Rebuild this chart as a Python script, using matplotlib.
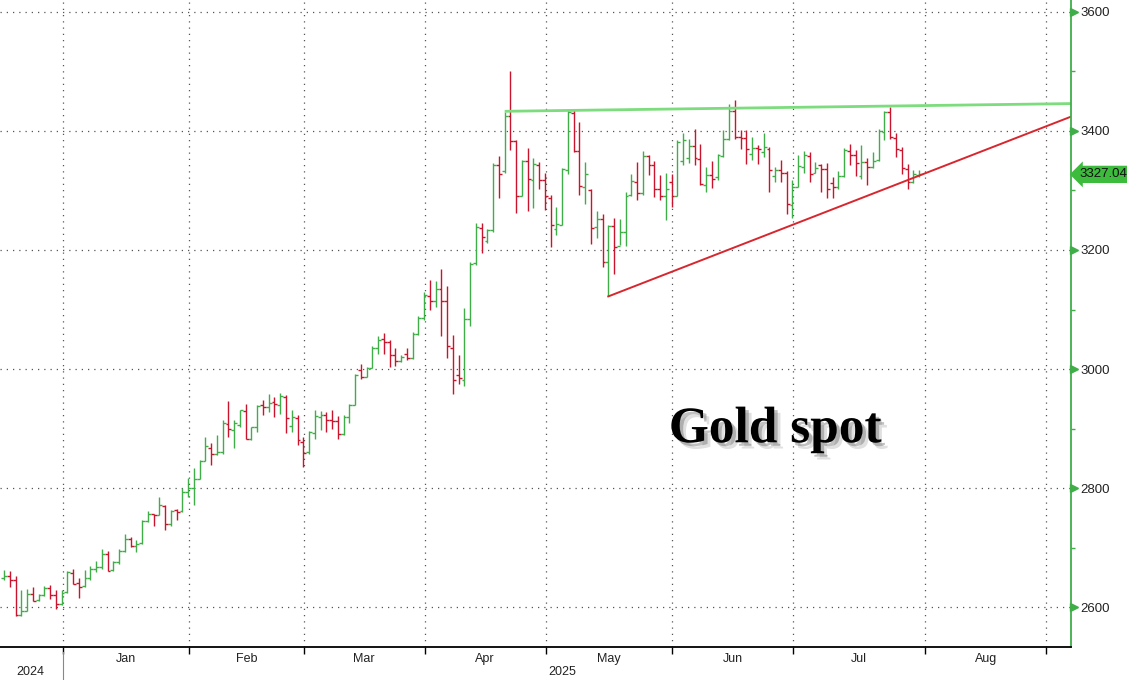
import matplotlib
matplotlib.use('Agg')
import matplotlib.pyplot as plt
import matplotlib.patheffects as pe

plt.rcParams['font.family'] = ['Liberation Sans', 'DejaVu Sans']

# daily OHLC, gold spot, mid Dec 2024 to end of Jul 2025 (one entry per trading day)
opens = [2649, 2652, 2646, 2587, 2594, 2622, 2612, 2620, 2632, 2620, 2606,
         2625, 2658, 2640, 2635, 2649, 2664, 2668, 2690, 2662, 2676, 2694, 2714, 2703, 2707, 2744, 2757, 2755, 2770, 2740, 2763, 2762, 2793,
         2800, 2816, 2846, 2868, 2858, 2861, 2908, 2898, 2906, 2930, 2883, 2902, 2940, 2937, 2945, 2940, 2953, 2905, 2918, 2878,
         2860, 2893, 2919, 2922, 2915, 2912, 2891, 2920, 2940, 2998, 2987, 3002, 3035, 3050, 3045, 3024, 3014, 3026, 3019, 3059, 3085,
         3123, 3114, 3134, 3114, 3036, 2990, 2982, 3084, 3178, 3237, 3215, 3233, 3342, 3332, 3425, 3383, 3290, 3350, 3318, 3343, 3318,
         3288, 3236, 3242, 3335, 3430, 3366, 3306, 3300, 3238, 3252, 3180, 3240, 3206, 3230, 3292, 3315, 3295, 3358, 3343, 3302, 3290, 3315,
         3290, 3350, 3355, 3374, 3353, 3310, 3326, 3322, 3358, 3386, 3433, 3390, 3388, 3362, 3372, 3365, 3370, 3325, 3335, 3330, 3275,
         3305, 3340, 3358, 3330, 3342, 3336, 3312, 3306, 3324, 3366, 3360, 3324, 3348, 3340, 3351, 3398, 3432, 3388, 3368, 3336, 3315, 3326]
highs = [2663, 2660, 2652, 2628, 2631, 2634, 2622, 2636, 2638, 2628, 2628,
         2660, 2664, 2649, 2663, 2669, 2677, 2697, 2694, 2677, 2697, 2723, 2718, 2712, 2746, 2762, 2757, 2785, 2771, 2764, 2765, 2800, 2817,
         2833, 2847, 2886, 2876, 2889, 2914, 2947, 2914, 2932, 2942, 2903, 2939, 2948, 2958, 2953, 2959, 2956, 2932, 2923, 2886,
         2896, 2931, 2930, 2928, 2932, 2921, 2923, 2942, 2992, 3008, 3004, 3039, 3055, 3061, 3049, 3035, 3023, 3035, 3063, 3089, 3130,
         3150, 3148, 3168, 3140, 3058, 3024, 3102, 3180, 3246, 3246, 3235, 3346, 3358, 3432, 3500, 3384, 3352, 3372, 3355, 3348, 3330,
         3292, 3272, 3337, 3435, 3437, 3415, 3348, 3303, 3265, 3260, 3242, 3254, 3252, 3297, 3327, 3347, 3367, 3360, 3350, 3326, 3330, 3328,
         3385, 3396, 3386, 3404, 3378, 3340, 3350, 3362, 3402, 3446, 3452, 3402, 3402, 3389, 3377, 3397, 3373, 3339, 3351, 3333, 3317,
         3360, 3367, 3364, 3347, 3345, 3346, 3323, 3332, 3371, 3378, 3368, 3377, 3354, 3365, 3403, 3434, 3440, 3396, 3373, 3344, 3334, 3334]
lows = [2645, 2634, 2585, 2585, 2593, 2610, 2611, 2618, 2613, 2597, 2603,
        2624, 2639, 2615, 2634, 2645, 2659, 2664, 2660, 2660, 2673, 2692, 2701, 2692, 2706, 2743, 2737, 2754, 2730, 2737, 2746, 2760, 2785,
        2772, 2816, 2845, 2839, 2855, 2858, 2885, 2868, 2903, 2882, 2881, 2895, 2923, 2928, 2920, 2925, 2892, 2895, 2872, 2836,
        2858, 2883, 2898, 2895, 2900, 2883, 2889, 2910, 2939, 2983, 2986, 3001, 3026, 3025, 3003, 3005, 3011, 3016, 3017, 3057, 3082,
        3100, 3105, 3055, 3018, 2958, 2975, 2972, 3072, 3175, 3195, 3212, 3230, 3288, 3330, 3368, 3262, 3290, 3266, 3270, 3302, 3268,
        3205, 3226, 3242, 3328, 3365, 3292, 3278, 3210, 3220, 3172, 3122, 3160, 3208, 3207, 3290, 3284, 3292, 3326, 3289, 3284, 3250, 3272,
        3290, 3343, 3346, 3343, 3309, 3298, 3304, 3318, 3357, 3385, 3386, 3369, 3345, 3351, 3345, 3357, 3298, 3315, 3315, 3261, 3253,
        3306, 3330, 3315, 3329, 3298, 3288, 3287, 3302, 3322, 3343, 3325, 3320, 3310, 3338, 3350, 3385, 3386, 3357, 3328, 3302, 3312, 3322]
closes = [2652, 2645, 2586, 2593, 2622, 2611, 2620, 2632, 2620, 2606, 2624,
          2659, 2639, 2634, 2649, 2664, 2667, 2690, 2661, 2676, 2694, 2715, 2703, 2706, 2744, 2757, 2755, 2771, 2740, 2762, 2760, 2793, 2800,
          2816, 2846, 2870, 2858, 2861, 2910, 2900, 2909, 2931, 2883, 2902, 2938, 2937, 2943, 2942, 2955, 2917, 2919, 2881, 2859,
          2895, 2921, 2923, 2914, 2913, 2891, 2920, 2939, 2990, 2987, 3002, 3036, 3048, 3046, 3023, 3014, 3020, 3019, 3059, 3086, 3124,
          3115, 3134, 3115, 3038, 2982, 2985, 3084, 3177, 3238, 3222, 3233, 3342, 3328, 3425, 3383, 3290, 3350, 3320, 3345, 3318, 3290,
          3242, 3243, 3336, 3432, 3366, 3307, 3327, 3237, 3252, 3180, 3241, 3205, 3230, 3291, 3316, 3296, 3358, 3343, 3303, 3290, 3303, 3290,
          3382, 3384, 3375, 3354, 3311, 3326, 3320, 3360, 3386, 3434, 3389, 3388, 3370, 3372, 3370, 3373, 3334, 3334, 3330, 3277, 3305,
          3341, 3360, 3328, 3338, 3336, 3302, 3305, 3324, 3368, 3360, 3346, 3347, 3340, 3350, 3400, 3432, 3390, 3370, 3338, 3315, 3328, 3327.04]

# hand drawn trend lines (bar index, price)
top_line_x = [87, 185.4]
top_line_y = [3433, 3446]
low_line_x = [105, 185.4]
low_line_y = [3122, 3424]

month_names = ['Jan', 'Feb', 'Mar', 'Apr', 'May', 'Jun', 'Jul', 'Aug']
month_edges = [10.2, 32.1, 52.1, 73.1, 94.1, 116.1, 137.1, 160.1, 181.1]
price_ticks = [2600, 2800, 3000, 3200, 3400, 3600]
price_minor = [2700, 2900, 3100, 3300, 3500]

GREEN = '#3fae49'
RED = '#c8142c'


def main():
    fig = plt.figure(figsize=(11.27, 6.8), dpi=100)
    ax = fig.add_axes([0.0, 0.0485, 0.950, 0.9515])

    x = list(range(len(closes)))
    colors = [GREEN if c >= o else RED for o, c in zip(opens, closes)]
    ax.vlines(x, lows, highs, colors=colors, lw=1.0)
    ax.hlines(opens, [i - 0.5 for i in x], x, colors=colors, lw=1.0)
    ax.hlines(closes, x, [i + 0.5 for i in x], colors=colors, lw=1.0)

    ax.plot(top_line_x, top_line_y, color='#7ddc7d', lw=2, solid_capstyle='butt')
    ax.plot(low_line_x, low_line_y, color='#d8262e', lw=1.4)

    ax.set_xlim(-0.7, 185.35)
    ax.set_ylim(2533, 3620)

    # grid and axes
    ax.set_xticks(month_edges)
    ax.set_xticklabels([])
    mids = [(a + b) / 2 for a, b in zip(month_edges[:-1], month_edges[1:])]
    ax.set_xticks(mids, minor=True)
    ax.set_xticklabels(month_names, minor=True)
    ax.tick_params(axis='x', which='major', length=5, width=1, color='black')
    ax.tick_params(axis='x', which='minor', length=0, pad=4, labelsize=9, labelcolor='#222222')

    ax.yaxis.tick_right()
    ax.set_yticks(price_ticks)
    ax.set_yticks(price_minor, minor=True)
    ax.tick_params(axis='y', which='major', length=0, pad=7, labelsize=9.5, labelcolor='#222222')
    ax.tick_params(axis='y', which='minor', length=3, width=1, color=GREEN, direction='out')
    ax.plot([1.0035] * len(price_ticks), price_ticks, ls='none', marker='>', ms=5.5,
            color=GREEN, transform=ax.get_yaxis_transform(), clip_on=False)

    ax.grid(True, which='major', linestyle=(0, (1, 4)), color='#555555', lw=0.9)

    for side in ['left', 'top']:
        ax.spines[side].set_visible(False)
    ax.spines['right'].set_color(GREEN)
    ax.spines['right'].set_linewidth(1.3)
    ax.spines['bottom'].set_linewidth(1.3)

    # year labels under the month row
    xt = ax.get_xaxis_transform()
    ax.text(4.5, -0.038, '2024', transform=xt, ha='center', va='center', fontsize=9, color='#222222')
    ax.text(94.6, -0.038, '2025', transform=xt, ha='left', va='center', fontsize=9, color='#222222')
    ax.plot([month_edges[0], month_edges[0]], [-0.008, -0.06], transform=xt,
            color='#888888', lw=0.8, clip_on=False)

    # last price tag
    ax.text(1.008, closes[-1], f'{closes[-1]:.2f}', transform=ax.get_yaxis_transform(),
            ha='left', va='center', fontsize=9.5, color='#111111', clip_on=False,
            bbox=dict(boxstyle='larrow,pad=0.2', fc='#3dbb3d', ec='none'))

    ax.text(0.724, 0.335, 'Gold spot', transform=ax.transAxes, ha='center', va='center',
            fontsize=37, fontweight='bold', family='Liberation Serif', color='black',
            path_effects=[pe.SimplePatchShadow(offset=(4.5, -4.5), shadow_rgbFace='#999999', alpha=0.3),
                          pe.SimplePatchShadow(offset=(2.5, -2.5), shadow_rgbFace='#666666', alpha=0.4),
                          pe.Normal()])

    fig.savefig('out.png', dpi=100)


main()
